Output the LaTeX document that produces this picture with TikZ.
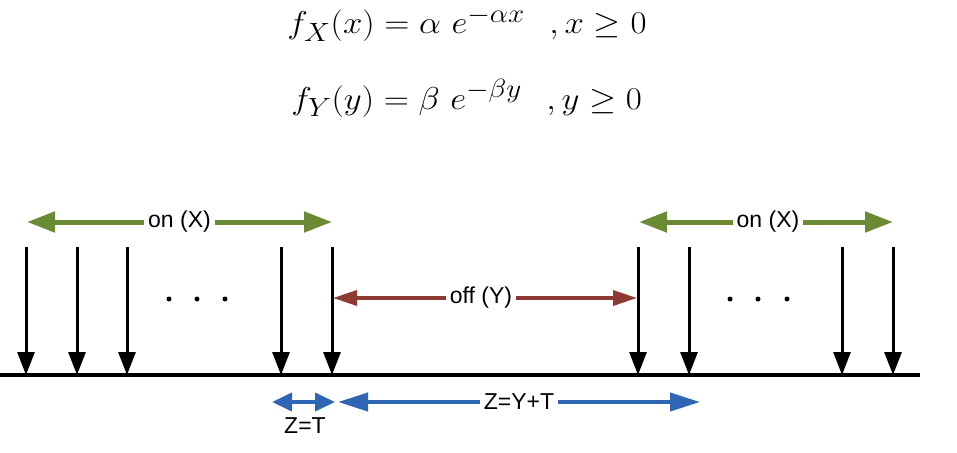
\documentclass[tikz,border=0pt]{standalone}
\usepackage{amsmath}
\usepackage{fontspec}
\usepackage{tikz}
\usetikzlibrary{arrows.meta}
\newfontfamily\labelfont{Liberation Sans}
\definecolor{onGreen}{HTML}{6A8A34}
\definecolor{offRed}{HTML}{8E3A32}
\definecolor{zBlue}{HTML}{2F66B3}

\tikzset{
  pulse/.style={line width=3pt,-{Triangle[length=23pt,width=17pt]}},
  onspan/.style={onGreen,line width=5pt,{Triangle[length=28pt,width=20pt]}-{Triangle[length=28pt,width=20pt]}},
  offspan/.style={offRed,line width=3.5pt,{Triangle[length=24pt,width=15pt]}-{Triangle[length=24pt,width=15pt]}},
  zspan/.style={zBlue,line width=4pt,{Triangle[length=#1,width=18pt]}-{Triangle[length=#1,width=18pt]}},
  tag/.style={fill=white,text=black,inner sep=4pt,font=\labelfont\fontsize{23}{27}\selectfont},
  eqn/.style={anchor=base west,inner sep=0pt,xscale=1.4,yscale=1.27,font=\Huge}
}

\begin{document}
\begin{tikzpicture}[x=1pt,y=-1pt]
  \useasboundingbox (0,0) rectangle (957,452);

  % densities
  \node[eqn] (fx) at (287,34) {$f_X(x) = \alpha\ e^{-\alpha x}\hspace{0.7em}, x \geq 0$};
  \node[eqn] (fy) at (291,109) {$f_Y(y) = \beta\ e^{-\beta y}\hspace{0.7em}, y \geq 0$};

  % time axis
  \coordinate (axL) at (0,375);
  \coordinate (axR) at (920,375);
  \draw[line width=3.5pt] (axL) -- (axR);

  % arrivals
  \foreach \x [count=\i] in {26,77,127,281,332,638,689,842,893} {
    \coordinate (top\i) at (\x,247);
    \coordinate (bot\i) at (\x,375);
    \draw[pulse] (top\i) -- (bot\i);
  }

  % dots between arrivals
  \foreach \x in {169,197,225,730,758,787}
    \fill (\x,299) circle (2.5pt);

  % on / off periods
  \coordinate (onAl) at (27,222);
  \coordinate (onAr) at (332,222);
  \coordinate (onBl) at (639,222);
  \coordinate (onBr) at (893,222);
  \draw[onspan] (onAl) -- node[tag] (onA) {on (X)} (onAr);
  \draw[onspan] (onBl) -- node[tag,xshift=2pt] (onB) {on (X)} (onBr);

  \coordinate (offl) at (333,298);
  \coordinate (offr) at (637,298);
  \draw[offspan] (offl) -- node[tag,xshift=-4pt] (off) {off (Y)} (offr);

  % Z intervals
  \coordinate (zTl) at (272,402);
  \coordinate (zTr) at (335,402);
  \coordinate (zYl) at (338,402);
  \coordinate (zYr) at (700,402);
  \draw[zspan=20pt] (zTl) -- (zTr);
  \draw[zspan=30pt] (zYl) -- node[tag] (zY) {Z=Y+T} (zYr);
  \node[tag,below=2pt] (zT) at (305,411) {Z=T};
\end{tikzpicture}
\end{document}
